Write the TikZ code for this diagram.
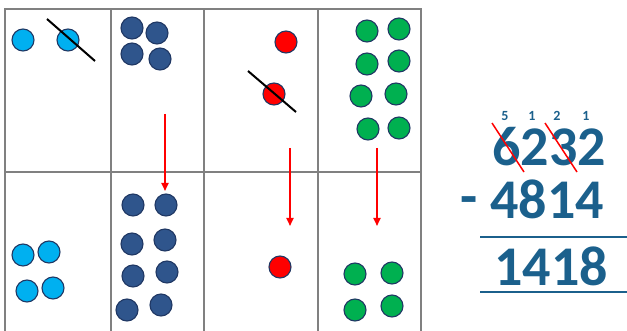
\documentclass[tikz,border=0pt]{standalone}
\usepackage{fontspec}
\usepackage{xcolor}
\usepackage{tikz}
\usetikzlibrary{arrows.meta,positioning}
\newfontfamily\sumfont{Carlito}
\definecolor{gridgray}{RGB}{128,128,128}
\definecolor{rimblue}{RGB}{32,56,100}
\definecolor{onesblue}{RGB}{0,176,240}
\definecolor{tensblue}{RGB}{47,85,140}
\definecolor{hundredsred}{RGB}{255,0,0}
\definecolor{thousandsgreen}{RGB}{0,176,80}
\definecolor{sumblue}{RGB}{27,96,140}

\begin{document}
\begin{tikzpicture}[
    x=1pt, y=-1pt,
    counter/.style={circle, draw=rimblue, line width=1.1pt, minimum size=22pt, inner sep=0pt},
    ones/.style={counter, fill=onesblue},
    tens/.style={counter, fill=tensblue},
    hundreds/.style={counter, fill=hundredsred},
    thousands/.style={counter, fill=thousandsgreen},
    grid/.style={draw=gridgray, line width=1.4pt},
    arrow/.style={-{Triangle[width=7pt,length=8pt]}, draw=hundredsred, line width=1.8pt},
    strike/.style={draw=black, line width=2pt},
    redstrike/.style={draw=hundredsred, line width=1.5pt},
    bignum/.style={text=sumblue, font=\sumfont\bfseries\fontsize{56}{56}\selectfont, inner sep=0pt},
    smallnum/.style={text=sumblue, font=\sumfont\bfseries\fontsize{14}{14}\selectfont, inner sep=0pt},
    rule/.style={draw=sumblue, line width=2pt}
]
\useasboundingbox (0,0) rectangle (627,331);

% Table
\draw[grid] (5,331) -- (5,9) -- (421,9) -- (421,331);
\draw[grid] (111,9) -- (111,331);
\draw[grid] (204,9) -- (204,331);
\draw[grid] (318,9) -- (318,331);
\draw[grid] (5,172) -- (421,172);

% Top row
\node[ones] (o1) at (23,40) {};
\node[ones] (o2) at (68,40) {};
\node[tens] (t1) at (132,28) {};
\node[tens] (t2) at (157,33) {};
\node[tens] (t3) at (132,54) {};
\node[tens] (t4) at (160,59) {};
\node[hundreds] (h1) at (286,42) {};
\node[hundreds] (h2) at (274,94) {};
\node[thousands] (k1) at (367,31) {};
\node[thousands] (k2) at (399,29) {};
\node[thousands] (k3) at (367,64) {};
\node[thousands] (k4) at (399,61) {};
\node[thousands] (k5) at (361,96) {};
\node[thousands] (k6) at (396,94) {};
\node[thousands] (k7) at (368,129) {};
\node[thousands] (k8) at (399,128) {};

% Bottom row
\node[ones] (p1) at (23,255) {};
\node[ones] (p2) at (49,252) {};
\node[ones] (p3) at (27,291) {};
\node[ones] (p4) at (53,288) {};
\node[tens] (u1) at (133,205) {};
\node[tens] (u2) at (166,205) {};
\node[tens] (u3) at (132,244) {};
\node[tens] (u4) at (165,240) {};
\node[tens] (u5) at (133,276) {};
\node[tens] (u6) at (167,272) {};
\node[tens] (u7) at (127,310) {};
\node[tens] (u8) at (161,305) {};
\node[hundreds] (i1) at (280,267) {};
\node[thousands] (m1) at (355,274) {};
\node[thousands] (m2) at (392,273) {};
\node[thousands] (m3) at (355,310) {};
\node[thousands] (m4) at (392,306) {};

% Crossed out counters
\coordinate (s1a) at (47,19);
\coordinate (s1b) at (95,61);
\coordinate (s2a) at (248,71);
\coordinate (s2b) at (296,112);
\draw[strike] (s1a) -- (s1b);
\draw[strike] (s2a) -- (s2b);

% Regrouping arrows
\coordinate (a1) at (165,114);
\coordinate (b1) at (165,191);
\coordinate (a2) at (290,148);
\coordinate (b2) at (290,226);
\coordinate (a3) at (377,148);
\coordinate (b3) at (377,226);
\draw[arrow] (a1) -- (b1);
\draw[arrow] (a2) -- (b2);
\draw[arrow] (a3) -- (b3);

% Written subtraction
\node[smallnum] (c1) at (505,116) {5};
\node[smallnum] (c2) at (532,116) {1};
\node[smallnum] (c3) at (557,116) {2};
\node[smallnum] (c4) at (586,116) {1};
\node[bignum] (top) at (549,147) {6232};
\node[bignum] (mid) at (547,199) {4814};
\node[bignum] (minus) at (469,206) {-};
\node[bignum] (res) at (551,266) {1418};
\coordinate (r1a) at (480,237);
\coordinate (r1b) at (627,237);
\coordinate (r2a) at (480,292);
\coordinate (r2b) at (627,292);
\draw[rule] (r1a) -- (r1b);
\draw[rule] (r2a) -- (r2b);
\coordinate (x1a) at (492,123);
\coordinate (x1b) at (524,172);
\coordinate (x2a) at (545,123);
\coordinate (x2b) at (577,172);
\draw[redstrike] (x1a) -- (x1b);
\draw[redstrike] (x2a) -- (x2b);
\end{tikzpicture}
\end{document}
